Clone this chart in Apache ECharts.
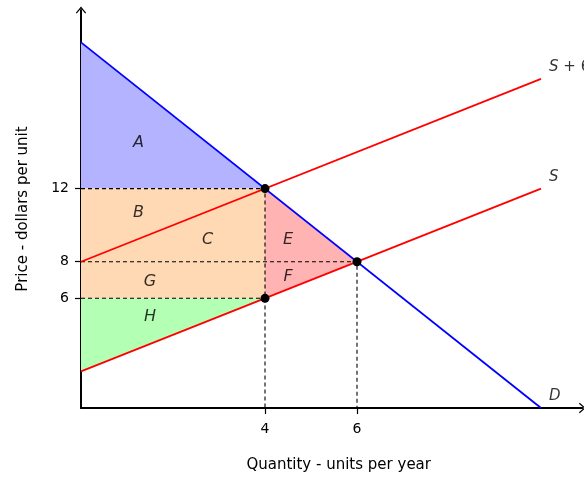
<!DOCTYPE html>
<html lang="en">
<head>
    <meta charset="UTF-8">
    <title>Supply shift</title>
    <script src="https://cdn.jsdelivr.net/npm/echarts@6/dist/echarts.min.js"></script>
</head>
<body style="margin:0">
<div id="main" style="width: 584px;height: 478px"></div>
<script type="text/javascript">
    // curves: D, S, S + 6
    var demand = [[0, 20], [10, 0]];
    var supply = [[0, 2], [10, 12]];
    var supplyTax = [[0, 8], [10, 18]];
    // shaded areas
    var regionA = [[0, 20], [4, 12], [0, 12]];
    var regionBCG = [[0, 12], [4, 12], [4, 6], [0, 6]];
    var regionEF = [[4, 12], [6, 8], [4, 6]];
    var regionH = [[0, 6], [4, 6], [0, 2]];
    var regions = [regionA, regionBCG, regionEF, regionH];
    var regionColors = ['#b3b3ff', '#ffd9b3', '#ffb3b3', '#b3ffb3'];
    // guide lines and points
    var guide12 = [[0, 12], [4, 12], [4, 0]];
    var guide8 = [[0, 8], [6, 8], [6, 0]];
    var guide6 = [[0, 6], [4, 6]];
    var dots = [[4, 12], [6, 8], [4, 6]];
    // letters inside the areas
    var letters = [
        ['A', 1.25, 14.5], ['B', 1.25, 10.7], ['C', 2.75, 9.2], ['E', 4.5, 9.2],
        ['F', 4.5, 7.2], ['G', 1.5, 6.9], ['H', 1.5, 5]
    ];
    var curveNames = [['{i|S} + 6', 10, 18], ['{i|S}', 10, 12], ['{i|D}', 10, 0]];
    var yTicks = [6, 8, 12];
    var xTicks = [4, 6];

    var font = 'DejaVu Sans';
    var arrow = 'path://M0,0 L5,6 L4.1,6.8 L0,1.9 L-4.1,6.8 L-5,6 Z';

    function guideSeries(data) {
        return {
            type: 'line', data: data, symbol: 'none', z: 3, silent: true,
            lineStyle: {color: '#000', width: 1.1, type: [4, 3]}
        };
    }
    function curveSeries(data, color) {
        return {
            type: 'line', data: data, symbol: 'none', z: 4, silent: true,
            lineStyle: {color: color, width: 1.8}
        };
    }

    var myChart = echarts.init(document.getElementById('main'));
    var option = {
        animation: false,
        grid: {left: 81, top: 10, right: 1.6, bottom: 69},
        xAxis: {
            type: 'value', min: 0, max: 10.9,
            name: 'Quantity - units per year', nameLocation: 'middle', nameGap: 50,
            nameTextStyle: {fontFamily: font, fontSize: 15, color: '#000', padding: [0, 0, 0, 14]},
            axisLine: {show: true, symbol: ['none', arrow], symbolSize: [11, 7],
                lineStyle: {color: '#000', width: 2}},
            axisTick: {show: true, length: 6, customValues: xTicks, lineStyle: {color: '#000', width: 1.2}},
            axisLabel: {customValues: xTicks, margin: 14, fontFamily: font, fontSize: 14, color: '#000'},
            splitLine: {show: false}
        },
        yAxis: {
            type: 'value', min: 0, max: 21.77,
            name: 'Price - dollars per unit', nameLocation: 'middle', nameGap: 50,
            nameTextStyle: {fontFamily: font, fontSize: 15, color: '#000'},
            axisLine: {show: true, symbol: ['none', arrow], symbolSize: [11, 7],
                lineStyle: {color: '#000', width: 2}},
            axisTick: {show: true, length: 6, customValues: yTicks, lineStyle: {color: '#000', width: 1.2}},
            axisLabel: {customValues: yTicks, margin: 12, fontFamily: font, fontSize: 14, color: '#000'},
            splitLine: {show: false}
        },
        series: [
            {
                type: 'custom', z: 1, silent: true,
                data: regions.map(function (r, i) { return [i]; }),
                renderItem: function (params, api) {
                    var i = api.value(0);
                    return {
                        type: 'polygon',
                        shape: {points: regions[i].map(function (p) { return api.coord(p); })},
                        style: {fill: regionColors[i], stroke: null}
                    };
                }
            },
            guideSeries(guide12),
            guideSeries(guide8),
            guideSeries(guide6),
            curveSeries(demand, '#0000ff'),
            curveSeries(supply, '#ff0000'),
            curveSeries(supplyTax, '#ff0000'),
            {
                type: 'scatter', data: dots, z: 5, silent: true,
                symbolSize: 9, itemStyle: {color: '#000', opacity: 1}
            },
            {
                type: 'scatter', z: 6, silent: true, symbolSize: 0,
                data: letters.map(function (l) { return {name: l[0], value: [l[1], l[2]]}; }),
                label: {show: true, position: 'inside', formatter: '{b}',
                    fontFamily: font, fontStyle: 'italic', fontSize: 16, color: '#000'}
            },
            {
                type: 'scatter', z: 6, silent: true, symbolSize: 0,
                data: curveNames.map(function (l) { return {name: l[0], value: [l[1], l[2]]}; }),
                label: {show: true, position: [8, -12], align: 'left', verticalAlign: 'middle',
                    formatter: '{b}', fontFamily: font, fontSize: 15, color: '#000',
                    rich: {i: {fontFamily: font, fontStyle: 'italic', fontSize: 15, color: '#000'}}}
            }
        ]
    };
    myChart.setOption(option);
</script>
</body>
</html>
